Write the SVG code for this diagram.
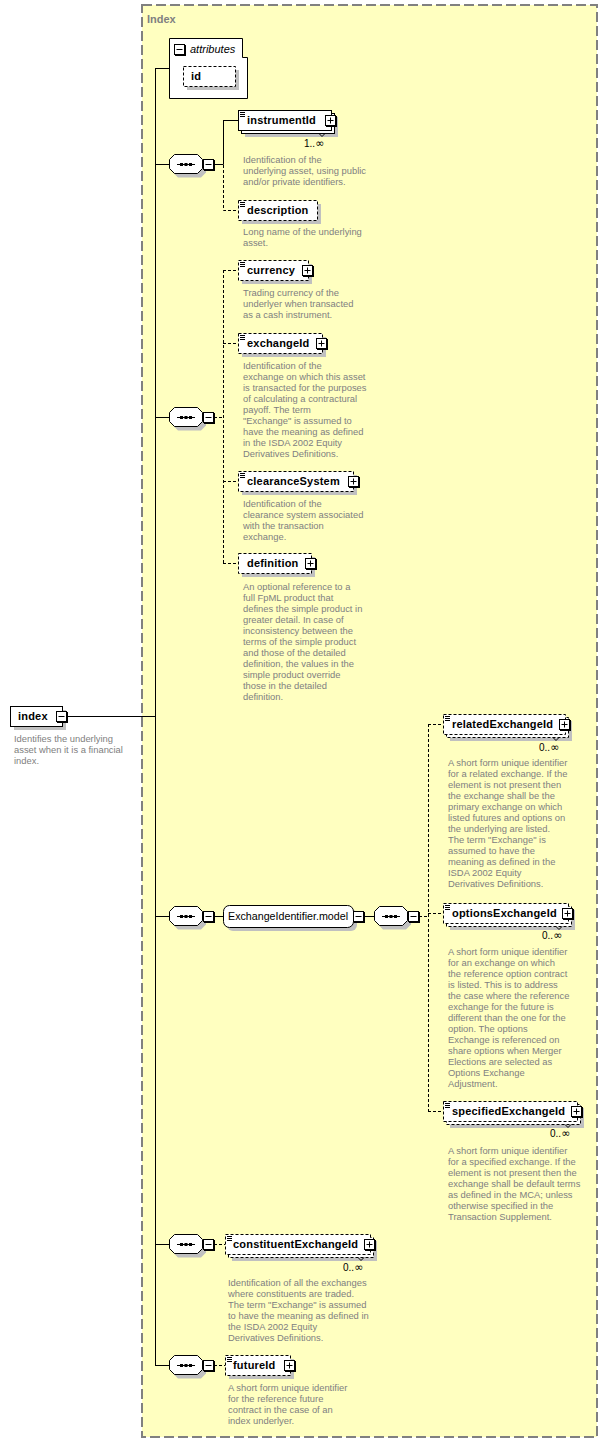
<svg xmlns="http://www.w3.org/2000/svg" xmlns:xlink="http://www.w3.org/1999/xlink" width="608" height="1443" viewBox="0 0 608 1443">
<style>
.desc{font-family:"Liberation Sans",Arial,sans-serif;font-size:9.4px;fill:#808080}
.name{font-family:"Liberation Sans",Arial,sans-serif;font-size:11px;font-weight:bold;letter-spacing:0.2px;fill:#000}
.mult{font-family:"Liberation Sans",Arial,sans-serif;font-size:10px;fill:#000}
.inf{font-family:"DejaVu Sans",sans-serif;font-size:11px}
.box{fill:#fff;stroke:#000;stroke-width:1}
.opt{stroke-dasharray:3,2}
.shadow{fill:#c0c0c0}
.icon{stroke:#000;stroke-width:1;fill:none}
.conn{stroke:#000;stroke-width:1;fill:none}
</style>
<defs>
<g id="plus">
<rect x="1" y="1" width="11" height="11" fill="#000"/>
<rect x="0.5" y="0.5" width="10" height="10" fill="#fff" stroke="#000"/>
<path d="M2.5,5.5H8.5M5.5,2.5V8.5" stroke="#000" fill="none"/>
</g>
<g id="minus">
<rect x="1" y="1" width="11" height="11" fill="#000"/>
<rect x="0.5" y="0.5" width="10" height="10" fill="#fff" stroke="#000"/>
<path d="M2.5,5.5H8.5" stroke="#000" fill="none"/>
</g>
<g id="seq">
<path class="shadow" d="M9,-5.5H32L37,-0.5V8.5L32,13.5H9L4,8.5V-0.5Z"/>
<path class="box" d="M5.5,-9.5H28.5L33.5,-4.5V4.5L28.5,9.5H5.5L0.5,4.5V-4.5Z"/>
<path d="M8,0.5H26" stroke="#000"/>
<rect x="11" y="-1" width="3" height="3" fill="#000"/>
<rect x="15.5" y="-1" width="3" height="3" fill="#000"/>
<rect x="20" y="-1" width="3" height="3" fill="#000"/>
<use xlink:href="#minus" x="34" y="-5"/>
</g>
</defs>

<rect x="0" y="0" width="608" height="1443" fill="#fff"/>
<rect x="142" y="5" width="455" height="1432" fill="#ffffc0" stroke="#808080" stroke-width="2" stroke-dasharray="10,4"/>
<text x="147" y="23" font-family="Liberation Sans, Arial, sans-serif" font-size="11" font-weight="bold" fill="#808080">Index</text>

<g id="connectors">
<path class="conn" d="M67,716.5H155.5M155.5,68V1365.5M155,68.5H169M155,164.5H169M155,417.5H169M155,916.5H169M155,1244.5H169M155,1365.5H169"/>
<path class="conn" d="M214,164.5H223.5M223.5,120V164.5M223,120.5H238"/>
<path class="conn opt" d="M223.5,165V210.5H238"/>
<path class="conn opt" d="M214,417.5H223.5M223.5,270V563.5M223,270.5H238M223,343.5H238M223,481.5H238M223,563.5H238"/>
<path class="conn" d="M214,916.5H223M364,916.5H374"/>
<path class="conn opt" d="M419,916.5H428.5M428.5,724V1111.5M428,724.5H443M428,913.5H443M428,1111.5H443"/>
<path class="conn opt" d="M214,1244.5H225M214,1365.5H225"/>
</g>

<g id="index">
<rect class="shadow" x="14" y="710" width="52" height="20"/>
<rect class="box" x="10.5" y="706.5" width="52" height="20"/>
<text class="name" x="18" y="720">index</text>
<use xlink:href="#minus" x="56" y="711"/>
<text class="desc"><tspan x="14" y="742">Identifies the underlying</tspan><tspan x="14" y="753">asset when it is a financial</tspan><tspan x="14" y="764">index.</tspan></text>
</g>

<g id="attributes">
<path class="box" d="M169.5,38.5H242.5V57.5H247.5V98.5H169.5Z"/>
<use xlink:href="#minus" x="174" y="44"/>
<text x="190" y="53" font-family="Liberation Sans, Arial, sans-serif" font-size="11" font-style="italic" fill="#000">attributes</text>
<rect class="shadow" x="187" y="70" width="52" height="20"/>
<rect class="box opt" x="183.5" y="66.5" width="52" height="20"/>
<text class="name" x="191" y="80">id</text>
</g>

<g id="seq1"><use xlink:href="#seq" x="169" y="164"/></g>
<g id="seq2"><use xlink:href="#seq" x="169" y="417"/></g>
<g id="seq3"><use xlink:href="#seq" x="169" y="916"/></g>
<g id="seq3b"><use xlink:href="#seq" x="374" y="916"/></g>
<g id="seq4"><use xlink:href="#seq" x="169" y="1244"/></g>
<g id="seq5"><use xlink:href="#seq" x="169" y="1365"/></g>

<g id="instrumentId">
<rect class="shadow" x="245" y="117" width="93" height="20"/>
<rect class="box" x="241.5" y="113.5" width="93" height="20"/>
<rect class="box" x="238.5" y="110.5" width="93" height="20"/>
<path class="icon" d="M240,112.5h5M240,114.5h5M240,116.5h5"/>
<text class="name" x="247" y="124">instrumentId</text>
<use xlink:href="#plus" x="325" y="115"/>
<path class="icon" d="M319,133.5l3,3l3,-3"/>
<text class="mult" x="304" y="147">1..<tspan class="inf">∞</tspan></text>
<text class="desc"><tspan x="243" y="163">Identification of the</tspan><tspan x="243" y="174">underlying asset, using public</tspan><tspan x="243" y="185">and/or private identifiers.</tspan></text>
</g>

<g id="description">
<rect class="shadow" x="242" y="204" width="79" height="20"/>
<rect class="box opt" x="238.5" y="200.5" width="79" height="20"/>
<path class="icon" d="M240,202.5h5M240,204.5h5M240,206.5h5"/>
<text class="name" x="247" y="214">description</text>
<text class="desc"><tspan x="243" y="235">Long name of the underlying</tspan><tspan x="243" y="246">asset.</tspan></text>
</g>

<g id="currency">
<rect class="shadow" x="242" y="264" width="70" height="20"/>
<rect class="box opt" x="238.5" y="260.5" width="70" height="20"/>
<path class="icon" d="M240,262.5h5M240,264.5h5M240,266.5h5"/>
<text class="name" x="247" y="274">currency</text>
<use xlink:href="#plus" x="302" y="265"/>
<text class="desc"><tspan x="243" y="296">Trading currency of the</tspan><tspan x="243" y="307">underlyer when transacted</tspan><tspan x="243" y="318">as a cash instrument.</tspan></text>
</g>

<g id="exchangeId">
<rect class="shadow" x="242" y="337" width="84" height="20"/>
<rect class="box opt" x="238.5" y="333.5" width="84" height="20"/>
<path class="icon" d="M240,335.5h5M240,337.5h5M240,339.5h5"/>
<text class="name" x="247" y="347">exchangeId</text>
<use xlink:href="#plus" x="316" y="338"/>
<text class="desc"><tspan x="243" y="369">Identification of the</tspan><tspan x="243" y="380">exchange on which this asset</tspan><tspan x="243" y="391">is transacted for the purposes</tspan><tspan x="243" y="402">of calculating a contractural</tspan><tspan x="243" y="413">payoff. The term</tspan><tspan x="243" y="424">"Exchange" is assumed to</tspan><tspan x="243" y="435">have the meaning as defined</tspan><tspan x="243" y="446">in the ISDA 2002 Equity</tspan><tspan x="243" y="457">Derivatives Definitions.</tspan></text>
</g>

<g id="clearanceSystem">
<rect class="shadow" x="242" y="475" width="115" height="20"/>
<rect class="box opt" x="238.5" y="471.5" width="115" height="20"/>
<path class="icon" d="M240,473.5h5M240,475.5h5M240,477.5h5"/>
<text class="name" x="247" y="485">clearanceSystem</text>
<use xlink:href="#plus" x="348" y="476"/>
<text class="desc"><tspan x="243" y="507">Identification of the</tspan><tspan x="243" y="518">clearance system associated</tspan><tspan x="243" y="529">with the transaction</tspan><tspan x="243" y="540">exchange.</tspan></text>
</g>

<g id="definition">
<rect class="shadow" x="242" y="557" width="73" height="20"/>
<rect class="box opt" x="238.5" y="553.5" width="73" height="20"/>
<text class="name" x="247" y="567">definition</text>
<use xlink:href="#plus" x="305" y="558"/>
<text class="desc"><tspan x="243" y="590">An optional reference to a</tspan><tspan x="243" y="601">full FpML product that</tspan><tspan x="243" y="612">defines the simple product in</tspan><tspan x="243" y="623">greater detail. In case of</tspan><tspan x="243" y="634">inconsistency between the</tspan><tspan x="243" y="645">terms of the simple product</tspan><tspan x="243" y="656">and those of the detailed</tspan><tspan x="243" y="667">definition, the values in the</tspan><tspan x="243" y="678">simple product override</tspan><tspan x="243" y="689">those in the detailed</tspan><tspan x="243" y="700">definition.</tspan></text>
</g>

<g id="ExchangeIdentifier.model">
<rect class="shadow" x="227" y="909" width="130" height="22" rx="6"/>
<rect class="box" x="223.5" y="905.5" width="130" height="22" rx="6"/>
<text x="228" y="920" font-family="Liberation Sans, Arial, sans-serif" font-size="10.7" fill="#000">ExchangeIdentifier.model</text>
<use xlink:href="#minus" x="353" y="911"/>
</g>

<g id="relatedExchangeId">
<rect class="shadow" x="450" y="721" width="122" height="20"/>
<rect class="box opt" x="446.5" y="717.5" width="122" height="20"/>
<rect class="box opt" x="443.5" y="714.5" width="122" height="20"/>
<path class="icon" d="M445,716.5h5M445,718.5h5M445,720.5h5"/>
<text class="name" x="452" y="728">relatedExchangeId</text>
<use xlink:href="#plus" x="559" y="719"/>
<path class="icon" d="M553,737.5l3,3l3,-3"/>
<text class="mult" x="539" y="751">0..<tspan class="inf">∞</tspan></text>
<text class="desc"><tspan x="448" y="766">A short form unique identifier</tspan><tspan x="448" y="777">for a related exchange. If the</tspan><tspan x="448" y="788">element is not present then</tspan><tspan x="448" y="799">the exchange shall be the</tspan><tspan x="448" y="810">primary exchange on which</tspan><tspan x="448" y="821">listed futures and options on</tspan><tspan x="448" y="832">the underlying are listed.</tspan><tspan x="448" y="843">The term "Exchange" is</tspan><tspan x="448" y="854">assumed to have the</tspan><tspan x="448" y="865">meaning as defined in the</tspan><tspan x="448" y="876">ISDA 2002 Equity</tspan><tspan x="448" y="887">Derivatives Definitions.</tspan></text>
</g>

<g id="optionsExchangeId">
<rect class="shadow" x="450" y="910" width="125" height="20"/>
<rect class="box opt" x="446.5" y="906.5" width="125" height="20"/>
<rect class="box opt" x="443.5" y="903.5" width="125" height="20"/>
<path class="icon" d="M445,905.5h5M445,907.5h5M445,909.5h5"/>
<text class="name" x="452" y="917">optionsExchangeId</text>
<use xlink:href="#plus" x="562" y="908"/>
<path class="icon" d="M556,926.5l3,3l3,-3"/>
<text class="mult" x="542" y="939">0..<tspan class="inf">∞</tspan></text>
<text class="desc"><tspan x="448" y="955">A short form unique identifier</tspan><tspan x="448" y="966">for an exchange on which</tspan><tspan x="448" y="977">the reference option contract</tspan><tspan x="448" y="988">is listed. This is to address</tspan><tspan x="448" y="999">the case where the reference</tspan><tspan x="448" y="1010">exchange for the future is</tspan><tspan x="448" y="1021">different than the one for the</tspan><tspan x="448" y="1032">option. The options</tspan><tspan x="448" y="1043">Exchange is referenced on</tspan><tspan x="448" y="1054">share options when Merger</tspan><tspan x="448" y="1065">Elections are selected as</tspan><tspan x="448" y="1076">Options Exchange</tspan><tspan x="448" y="1087">Adjustment.</tspan></text>
</g>

<g id="specifiedExchangeId">
<rect class="shadow" x="450" y="1108" width="134" height="20"/>
<rect class="box opt" x="446.5" y="1104.5" width="134" height="20"/>
<rect class="box opt" x="443.5" y="1101.5" width="134" height="20"/>
<path class="icon" d="M445,1103.5h5M445,1105.5h5M445,1107.5h5"/>
<text class="name" x="452" y="1115">specifiedExchangeId</text>
<use xlink:href="#plus" x="571" y="1106"/>
<path class="icon" d="M565,1124.5l3,3l3,-3"/>
<text class="mult" x="550" y="1137">0..<tspan class="inf">∞</tspan></text>
<text class="desc"><tspan x="448" y="1154">A short form unique identifier</tspan><tspan x="448" y="1165">for a specified exchange. If the</tspan><tspan x="448" y="1176">element is not present then the</tspan><tspan x="448" y="1187">exchange shall be default terms</tspan><tspan x="448" y="1198">as defined in the MCA; unless</tspan><tspan x="448" y="1209">otherwise specified in the</tspan><tspan x="448" y="1220">Transaction Supplement.</tspan></text>
</g>

<g id="constituentExchangeId">
<rect class="shadow" x="232" y="1241" width="145" height="20"/>
<rect class="box opt" x="228.5" y="1237.5" width="145" height="20"/>
<rect class="box opt" x="225.5" y="1234.5" width="145" height="20"/>
<path class="icon" d="M227,1236.5h5M227,1238.5h5M227,1240.5h5"/>
<text class="name" x="233" y="1248">constituentExchangeId</text>
<use xlink:href="#plus" x="364" y="1239"/>
<path class="icon" d="M358,1257.5l3,3l3,-3"/>
<text class="mult" x="343" y="1271">0..<tspan class="inf">∞</tspan></text>
<text class="desc"><tspan x="228" y="1286">Identification of all the exchanges</tspan><tspan x="228" y="1297">where constituents are traded.</tspan><tspan x="228" y="1308">The term "Exchange" is assumed</tspan><tspan x="228" y="1319">to have the meaning as defined in</tspan><tspan x="228" y="1330">the ISDA 2002 Equity</tspan><tspan x="228" y="1341">Derivatives Definitions.</tspan></text>
</g>

<g id="futureId">
<rect class="shadow" x="229" y="1359" width="65" height="20"/>
<rect class="box opt" x="225.5" y="1355.5" width="65" height="20"/>
<path class="icon" d="M227,1357.5h5M227,1359.5h5M227,1361.5h5"/>
<text class="name" x="233" y="1369">futureId</text>
<use xlink:href="#plus" x="284" y="1360"/>
<text class="desc"><tspan x="228" y="1391">A short form unique identifier</tspan><tspan x="228" y="1402">for the reference future</tspan><tspan x="228" y="1413">contract in the case of an</tspan><tspan x="228" y="1424">index underlyer.</tspan></text>
</g>
</svg>
